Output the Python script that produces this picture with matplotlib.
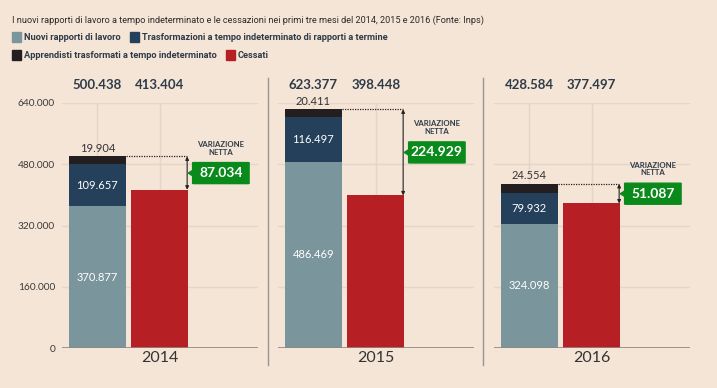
import matplotlib
matplotlib.use("Agg")
import matplotlib.pyplot as plt
from matplotlib.patches import FancyBboxPatch, Polygon, Rectangle
from matplotlib.lines import Line2D

years = ["2014", "2015", "2016"]
nuovi = [370877, 486469, 324098]
trasformazioni = [109657, 116497, 79932]
apprendisti = [19904, 20411, 24554]
cessati = [413404, 398448, 377497]

legend_labels = ["Nuovi rapporti di lavoro",
                 "Trasformazioni a tempo indeterminato di rapporti a termine",
                 "Apprendisti trasformati a tempo indeterminato",
                 "Cessati"]
yticks = [0, 160000, 320000, 480000, 640000]

BG = "#f5e5d7"
C_NUOVI = "#7b959c"
C_TRASF = "#24405a"
C_APPR = "#231f20"
C_CESS = "#b62025"
C_GREEN = "#0b8a1c"
C_TEXT = "#2e3b48"
C_GRID = "#e4d5c7"

NARROW = ["Roboto", "DejaVu Sans"]
NUMF = ["Lato", "DejaVu Sans"]


def fmt(v):
    return "{:,d}".format(v).replace(",", ".")


W, H = 717, 388
fig = plt.figure(figsize=(W / 100, H / 100), dpi=100, facecolor=BG)
renderer = fig.canvas.get_renderer()


def text_w(t):
    return t.get_window_extent(renderer).width


# title, sized so it spans like the original
title = fig.text(12 / W, 1 - 20 / H, "I nuovi rapporti di lavoro a tempo indeterminato e le cessazioni nei primi "
                 "tre mesi del 2014, 2015 e 2016 (Fonte: Inps)", fontsize=8, family=NARROW,
                 color="#2a2a2a", va="center")
title.set_fontsize(8 * 472 / text_w(title))

# legend font sized on the longest label
probe = fig.text(0, 0, legend_labels[1], fontsize=8, family=NARROW, weight="bold")
leg_fs = min(8 * 248 / text_w(probe), 7.6)
probe.remove()

leg_rows = [(37, [(C_NUOVI, legend_labels[0]), (C_TRASF, legend_labels[1])]),
            (55, [(C_APPR, legend_labels[2]), (C_CESS, legend_labels[3])])]
for py, items in leg_rows:
    px = 12
    for col, lab in items:
        fig.add_artist(Rectangle((px / W, 1 - (py + 5) / H), 9 / W, 10 / H, color=col,
                                 transform=fig.transFigure))
        t = fig.text((px + 12) / W, 1 - py / H, lab, fontsize=leg_fs, family=NARROW, weight="bold",
                     color=C_TEXT, va="center")
        px = px + 12 + text_w(t) + 9

# separators between panels
for sx in [268, 483]:
    fig.add_artist(Line2D([sx / W, sx / W], [1 - 78 / H, 1 - 365 / H], color="#9a948e", lw=1,
                          transform=fig.transFigure))

lefts = [62, 278, 494]
bw = 0.905
for i, year in enumerate(years):
    ax = fig.add_axes([lefts[i] / W, 40 / H, 196 / W, 245 / H])
    ax.set_facecolor("none")
    ax.set_xlim(-0.565, 2.575)
    ax.set_ylim(0, 640000)
    for sp in ax.spines.values():
        sp.set_visible(False)
    ax.set_yticks(yticks)
    ax.set_xticks([])
    ax.tick_params(axis="y", length=0, pad=5, labelsize=7.3, labelcolor="#3a3a3a")
    if i == 0:
        ax.set_yticklabels([fmt(t) for t in yticks], family=NUMF)
    else:
        ax.set_yticklabels([])
    for t in yticks[1:]:
        ax.axhline(t, color=C_GRID, lw=1, zorder=0)
    ax.axhline(0, color="#8c8782", lw=1.2, zorder=4)

    total = nuovi[i] + trasformazioni[i] + apprendisti[i]
    net = total - cessati[i]

    # faint lines from totals to bar tops
    ax.vlines([0, 1], [total, cessati[i]], 668000, color=C_GRID, lw=1, zorder=0)

    ax.bar(0, nuovi[i], bw, color=C_NUOVI, zorder=2)
    ax.bar(0, trasformazioni[i], bw, bottom=nuovi[i], color=C_TRASF, zorder=2)
    ax.bar(0, apprendisti[i], bw, bottom=nuovi[i] + trasformazioni[i], color=C_APPR, zorder=2)
    ax.bar(1, cessati[i], bw, color=C_CESS, zorder=2)

    ax.text(0, nuovi[i] / 2, fmt(nuovi[i]), ha="center", va="center", color="white", fontsize=8,
            family=NUMF, zorder=5)
    ax.text(0, nuovi[i] + trasformazioni[i] / 2, fmt(trasformazioni[i]), ha="center", va="center",
            color="white", fontsize=8, family=NUMF, zorder=5)
    ax.text(0, total + 7000, fmt(apprendisti[i]), ha="center", va="bottom", color="#333333", fontsize=8,
            family=NUMF, zorder=5)

    ax.text(0, 687000, fmt(total), ha="center", va="center", color=C_TEXT, fontsize=9.5, weight="bold",
            family=NUMF, clip_on=False)
    ax.text(1, 687000, fmt(cessati[i]), ha="center", va="center", color=C_TEXT, fontsize=9.5, weight="bold",
            family=NUMF, clip_on=False)
    ax.text(0.5, -0.04, year, transform=ax.transAxes, ha="center", va="center", color="#333333",
            fontsize=11.5, family=NUMF)

    # net variation marker
    xa = 1.44
    ax.plot([bw / 2, xa], [total, total], color="#222222", lw=0.9, ls=(0, (1, 1)), zorder=3)
    ax.annotate("", xy=(xa, cessati[i]), xytext=(xa, total),
                arrowprops=dict(arrowstyle="<|-|>", color="#222222", lw=0.8, mutation_scale=5,
                                shrinkA=0, shrinkB=0), zorder=3)
    mid = (total + cessati[i]) / 2
    bx, bh = 1.98, 27500
    ax.add_patch(FancyBboxPatch((bx - bw / 2, mid - bh), bw, 2 * bh,
                                boxstyle="round,pad=0,rounding_size=0.03", mutation_aspect=20000,
                                color=C_GREEN, zorder=3, clip_on=False))
    ax.add_patch(Polygon([(bx - bw / 2 + 0.01, mid + 8000), (bx - bw / 2 - 0.07, mid),
                          (bx - bw / 2 + 0.01, mid - 8000)], color=C_GREEN, zorder=3, clip_on=False))
    ax.text(bx, mid, fmt(net), ha="center", va="center", color="white", fontsize=10, weight="bold",
            family=NUMF, zorder=4)
    ax.text(bx, mid + bh + 18000, "VARIAZIONE\nNETTA", ha="center", va="bottom", color=C_TEXT,
            fontsize=5.6, weight="bold", family=NUMF, linespacing=1.1, zorder=4)

fig.savefig("out.png", dpi=100, facecolor=BG)
